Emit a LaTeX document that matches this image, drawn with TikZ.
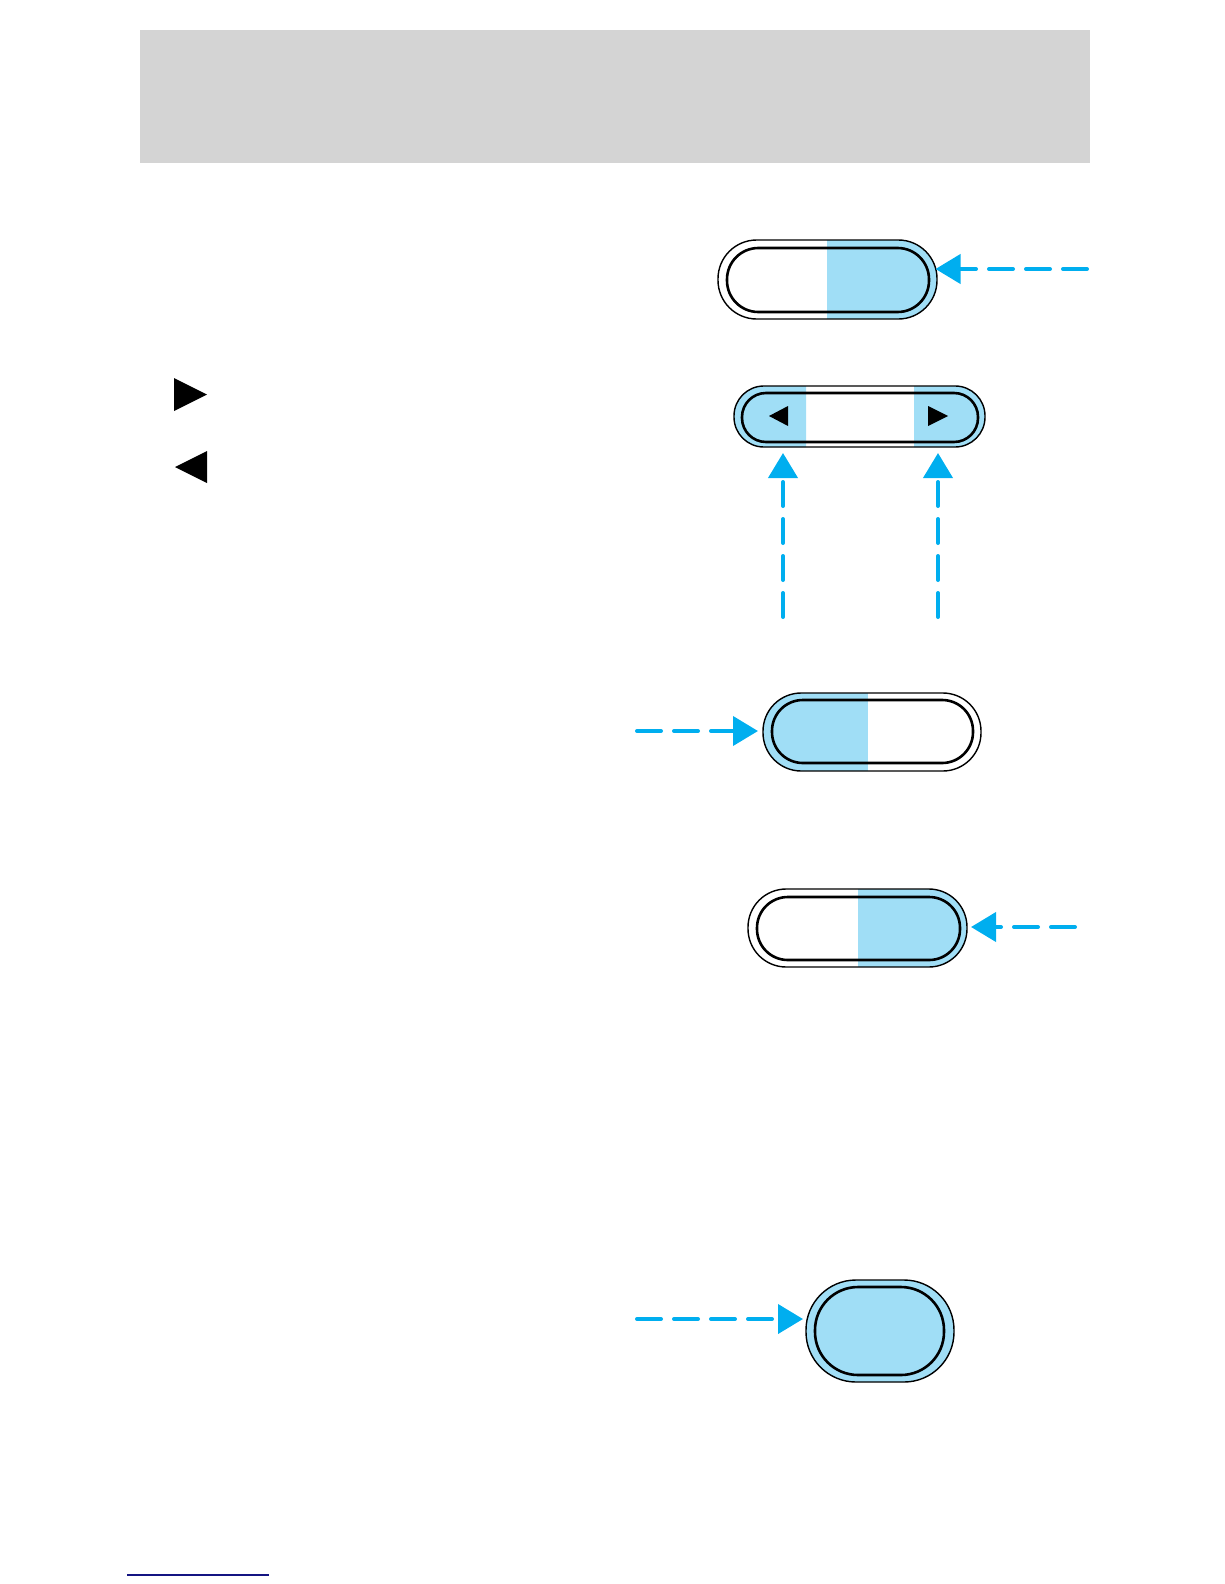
\documentclass[tikz,border=0pt]{standalone}
\usepackage{tikz}
\usetikzlibrary{arrows.meta, calc}
\definecolor{headgray}{RGB}{212,212,212}
\definecolor{keyblue}{RGB}{160,222,246}
\definecolor{callblue}{RGB}{0,174,239}
\definecolor{linknavy}{RGB}{20,20,130}

\begin{document}
\begin{tikzpicture}[x=1pt, y=-1pt,
    rim/.style 2 args={draw=black, line width=1.4pt, minimum width=#1, minimum height=#2, rounded corners=0.49*#2, inner sep=0pt, outer sep=0pt},
    core/.style 2 args={draw=black, line width=2.6pt, minimum width=#1, minimum height=#2, rounded corners=0.49*#2, inner sep=0pt, outer sep=0pt},
    blueright/.style={path picture={\fill[keyblue, sharp corners] ([xshift=#1]path picture bounding box.north) rectangle (path picture bounding box.south east);}},
    blueleft/.style={path picture={\fill[keyblue, sharp corners] (path picture bounding box.north west) rectangle ([xshift=#1]path picture bounding box.south);}},
    blueends/.style 2 args={path picture={\fill[keyblue, sharp corners] (path picture bounding box.north west) rectangle ([xshift=#1]path picture bounding box.south) ([xshift=#2]path picture bounding box.north) rectangle (path picture bounding box.south east);}},
    callout/.style={draw=callblue, line width=4pt, line cap=round, dash pattern=on 24pt off 13pt, -{Triangle[length=25pt, width=29pt]}}
]
\useasboundingbox (0,0) rectangle (1224,1584);
\fill[headgray] (139.5,30.5) rectangle (1090,162.5);

% left side symbols
\fill (174,378) -- (207,394.5) -- (174,411) -- cycle;
\fill (175,467) -- (207,451) -- (207,483) -- cycle;

% buttons
\node[rim={219pt}{79pt}, blueright=-0.5pt] (btnA) at (827.5,279.5) {};
\node[core={202pt}{64pt}] (btnA-in) at (828,280) {};

\node[rim={251pt}{61pt}, blueends={-53.5pt}{54.5pt}] (btnB) at (859.5,416.5) {};
\node[core={236pt}{49pt}] (btnB-in) at (860,417.5) {};
\fill (769,416) -- (788,406) -- (788,426) -- cycle;
\fill (948,416) -- (928,406) -- (928,426) -- cycle;

\node[rim={218pt}{78pt}, blueleft=-4pt] (btnC) at (872,732) {};
\node[core={201pt}{63pt}] (btnC-in) at (872.5,731.5) {};

\node[rim={219pt}{78pt}, blueright=0.5pt] (btnD) at (857.5,928) {};
\node[core={203pt}{63pt}] (btnD-in) at (858.5,928.5) {};

\node[rim={148pt}{102pt}, fill=keyblue] (btnE) at (880,1331) {};
\node[core={129pt}{88pt}] (btnE-in) at (879.5,1331) {};

% callouts
\coordinate (tailA) at (1087,269);
\coordinate (tailB1) at (783,617);
\coordinate (tailB2) at (938,617);
\coordinate (tailC) at (637,731);
\coordinate (tailD) at (1075,927);
\coordinate (tailE) at (637,1319);

\draw[callout, shorten >=-1.5pt] (tailA) -- (tailA -| btnA.east);
\draw[callout, shorten >=6pt] (tailB1) -- (tailB1 |- btnB.south);
\draw[callout, shorten >=6pt] (tailB2) -- (tailB2 |- btnB.south);
\draw[callout, shorten >=5pt] (tailC) -- (tailC -| btnC.west);
\draw[callout, shorten >=4pt] (tailD) -- (tailD -| btnD.east);
\draw[callout, shorten >=3pt] (tailE) -- (tailE -| btnE.west);

\draw[linknavy, line width=1.3pt] (127,1575) -- (269,1575);
\end{tikzpicture}
\end{document}
